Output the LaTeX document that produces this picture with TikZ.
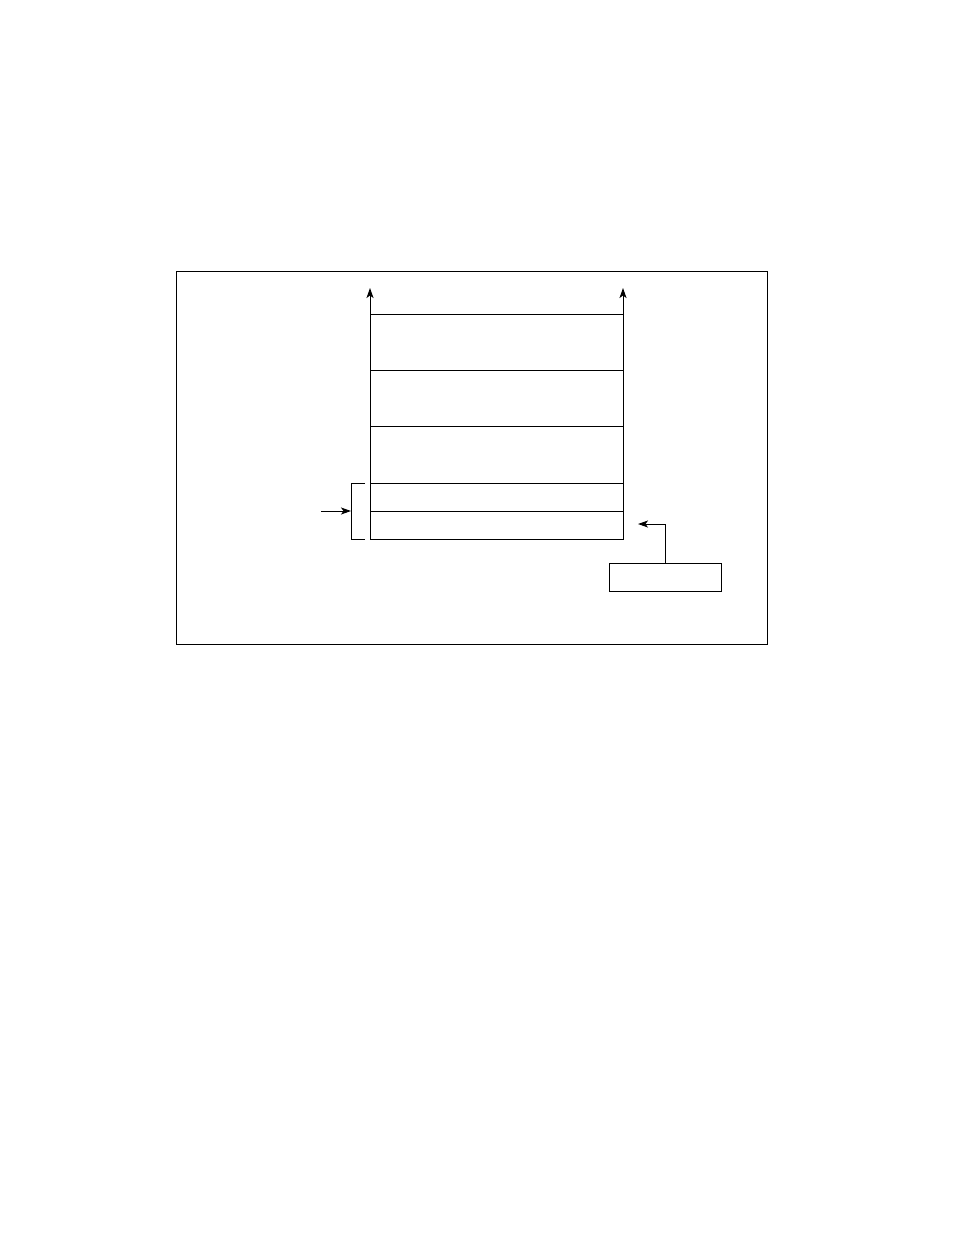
\documentclass[tikz,border=0pt]{standalone}
\usetikzlibrary{arrows.meta}
\begin{document}
\begin{tikzpicture}[x=1pt,y=1pt,line width=1pt,
  cell/.style={draw,rectangle,inner sep=0pt,outer sep=0pt,minimum width=253pt,anchor=north west},
  arr/.style={-{Stealth[length=10pt,width=7pt,inset=2.5pt]}},
  lbox/.style={draw,rectangle,inner sep=0pt,outer sep=0pt,minimum width=112pt,minimum height=28pt,anchor=north west}]
\useasboundingbox (0,0) rectangle (954,-1235);
\node[draw,rectangle,inner sep=0pt,outer sep=0pt,minimum width=591pt,minimum height=373pt,anchor=north west] (frame) at (176,-271) {};
\node[cell,minimum height=56pt] (r1) at (370,-314) {};
\node[cell,minimum height=56pt] (r2) at (r1.south west) {};
\node[cell,minimum height=57pt] (r3) at (r2.south west) {};
\node[cell,minimum height=28pt] (r4) at (r3.south west) {};
\node[cell,minimum height=28pt] (r5) at (r4.south west) {};
\coordinate (tl) at (370,-288);
\coordinate (tr) at (623,-288);
\draw[arr] (r1.north west) -- (tl);
\draw[arr] (r1.north east) -- (tr);
\coordinate (bt) at (365,-483);
\coordinate (bb) at (365,-539);
\coordinate (bm) at (351,-511);
\draw (bt) -- (351,-483) -- (351,-539) -- (bb);
\coordinate (la) at (321,-511);
\draw[arr] (la) -- (bm);
\node[lbox] (bx) at (609.5,-563) {};
\coordinate (ra) at (638,-524);
\draw[arr] (bx.north) |- (ra);
\end{tikzpicture}
\end{document}
